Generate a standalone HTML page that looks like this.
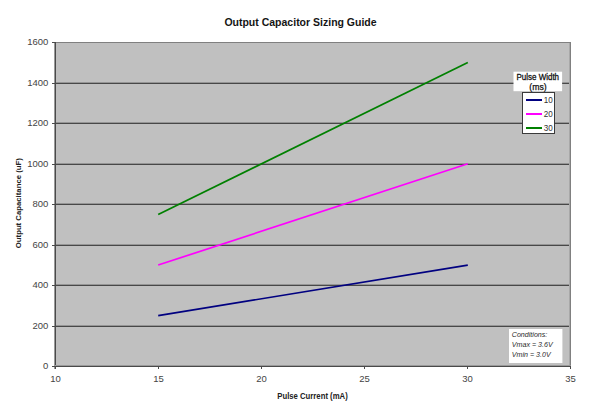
<!DOCTYPE html>
<html><head><meta charset="utf-8">
<style>
html,body{margin:0;padding:0;background:#fff;width:600px;height:410px;overflow:hidden;}
svg{display:block;font-family:"Liberation Sans",sans-serif;}
</style></head>
<body>
<svg width="600" height="410" viewBox="0 0 600 410">
<rect x="0" y="0" width="600" height="410" fill="#fff"/>
<text x="300.5" y="26.1" font-size="10.5" font-weight="bold" text-anchor="middle" fill="#151515">Output Capacitor Sizing Guide</text>
<rect x="55" y="42" width="516" height="324" fill="#c0c0c0"/>
<g shape-rendering="crispEdges">
<rect x="56" y="82" width="514" height="1" fill="#959595"/>
<rect x="56" y="83" width="514" height="1" fill="#484848"/>
<rect x="56" y="122" width="514" height="1" fill="#959595"/>
<rect x="56" y="123" width="514" height="1" fill="#484848"/>
<rect x="56" y="163" width="514" height="1" fill="#959595"/>
<rect x="56" y="164" width="514" height="1" fill="#484848"/>
<rect x="56" y="203" width="514" height="1" fill="#959595"/>
<rect x="56" y="204" width="514" height="1" fill="#484848"/>
<rect x="56" y="244" width="514" height="1" fill="#959595"/>
<rect x="56" y="245" width="514" height="1" fill="#484848"/>
<rect x="56" y="284" width="514" height="1" fill="#959595"/>
<rect x="56" y="285" width="514" height="1" fill="#484848"/>
<rect x="56" y="325" width="514" height="1" fill="#959595"/>
<rect x="56" y="326" width="514" height="1" fill="#484848"/>
<rect x="55" y="42" width="516" height="1" fill="#808080"/>
<rect x="570" y="42" width="1" height="324" fill="#808080"/>
<rect x="569" y="43" width="1" height="323" fill="#a8a8a8"/>
<rect x="54" y="42" width="1" height="327" fill="#9a9a9a"/>
<rect x="55" y="42" width="1" height="327" fill="#4a4a4a"/>
<rect x="55" y="365" width="516" height="1" fill="#9a9a9a"/>
<rect x="52" y="366" width="519" height="1" fill="#4a4a4a"/>
<rect x="52" y="42" width="3" height="1" fill="#4a4a4a"/>
<rect x="52" y="83" width="3" height="1" fill="#4a4a4a"/>
<rect x="52" y="123" width="3" height="1" fill="#4a4a4a"/>
<rect x="52" y="164" width="3" height="1" fill="#4a4a4a"/>
<rect x="52" y="204" width="3" height="1" fill="#4a4a4a"/>
<rect x="52" y="245" width="3" height="1" fill="#4a4a4a"/>
<rect x="52" y="285" width="3" height="1" fill="#4a4a4a"/>
<rect x="52" y="326" width="3" height="1" fill="#4a4a4a"/>
<rect x="158" y="366" width="1" height="3" fill="#4a4a4a"/>
<rect x="261" y="366" width="1" height="3" fill="#4a4a4a"/>
<rect x="364" y="366" width="1" height="3" fill="#4a4a4a"/>
<rect x="467" y="366" width="1" height="3" fill="#4a4a4a"/>
<rect x="570" y="366" width="1" height="3" fill="#4a4a4a"/>
</g>
<g font-size="9.5" fill="#444" text-anchor="end">
<text x="48.3" y="45.25">1600</text>
<text x="48.3" y="86.25">1400</text>
<text x="48.3" y="126.25">1200</text>
<text x="48.3" y="167.25">1000</text>
<text x="48.3" y="207.25">800</text>
<text x="48.3" y="248.25">600</text>
<text x="48.3" y="288.25">400</text>
<text x="48.3" y="329.25">200</text>
<text x="48.3" y="369.25">0</text>
</g>
<g font-size="9.5" fill="#444" text-anchor="middle">
<text x="55.5" y="382.3">10</text>
<text x="158.5" y="382.3">15</text>
<text x="261.5" y="382.3">20</text>
<text x="364.5" y="382.3">25</text>
<text x="467.5" y="382.3">30</text>
<text x="570.5" y="382.3">35</text>
</g>
<text x="312.5" y="399.3" font-size="8.4" font-weight="bold" text-anchor="middle" fill="#222" textLength="70.5" lengthAdjust="spacingAndGlyphs">Pulse Current (mA)</text>
<text transform="translate(21.0,203.2) rotate(-90)" font-size="8.1" font-weight="bold" text-anchor="middle" fill="#222" textLength="90" lengthAdjust="spacingAndGlyphs">Output Capacitance (uF)</text>
<g stroke-width="1.7" fill="none" stroke-linecap="butt">
<line x1="158.20" y1="214.43" x2="467.80" y2="62.55" stroke="#008000"/>
<line x1="158.20" y1="265.05" x2="467.80" y2="163.80" stroke="#ff00ff"/>
<line x1="158.20" y1="315.68" x2="467.80" y2="265.05" stroke="#000080"/>
</g>
<rect x="513.5" y="71.7" width="48.6" height="19.5" fill="#fff"/>
<text x="537.8" y="80.2" font-size="8.7" text-anchor="middle" fill="#111" stroke="#111" stroke-width="0.3" textLength="42.5" lengthAdjust="spacingAndGlyphs">Pulse Width</text>
<text x="538" y="89.5" font-size="8.7" text-anchor="middle" fill="#111" stroke="#111" stroke-width="0.25">(ms)</text>
<g shape-rendering="crispEdges">
<rect x="522" y="92" width="33" height="42" fill="#3a3a3a"/>
<rect x="523" y="93" width="31" height="40" fill="#fff"/>
<rect x="526" y="99" width="16" height="2" fill="#000080"/>
<rect x="526" y="113" width="16" height="2" fill="#ff00ff"/>
<rect x="526" y="127" width="16" height="2" fill="#008000"/>
</g>
<g font-size="9.6" fill="#333">
<text x="543.8" y="102.6" textLength="9" lengthAdjust="spacingAndGlyphs">10</text>
<text x="543.8" y="116.6" textLength="9" lengthAdjust="spacingAndGlyphs">20</text>
<text x="543.8" y="130.6" textLength="9" lengthAdjust="spacingAndGlyphs">30</text>
</g>
<rect x="509" y="329" width="53.4" height="34" fill="#fff"/>
<g font-size="7.1" font-style="italic" fill="#2a2a2a">
<text x="511.8" y="337.1">Conditions:</text>
<text x="511.8" y="347.1">Vmax = 3.6V</text>
<text x="511.8" y="356.6">Vmin = 3.0V</text>
</g>
</svg>
</body></html>
